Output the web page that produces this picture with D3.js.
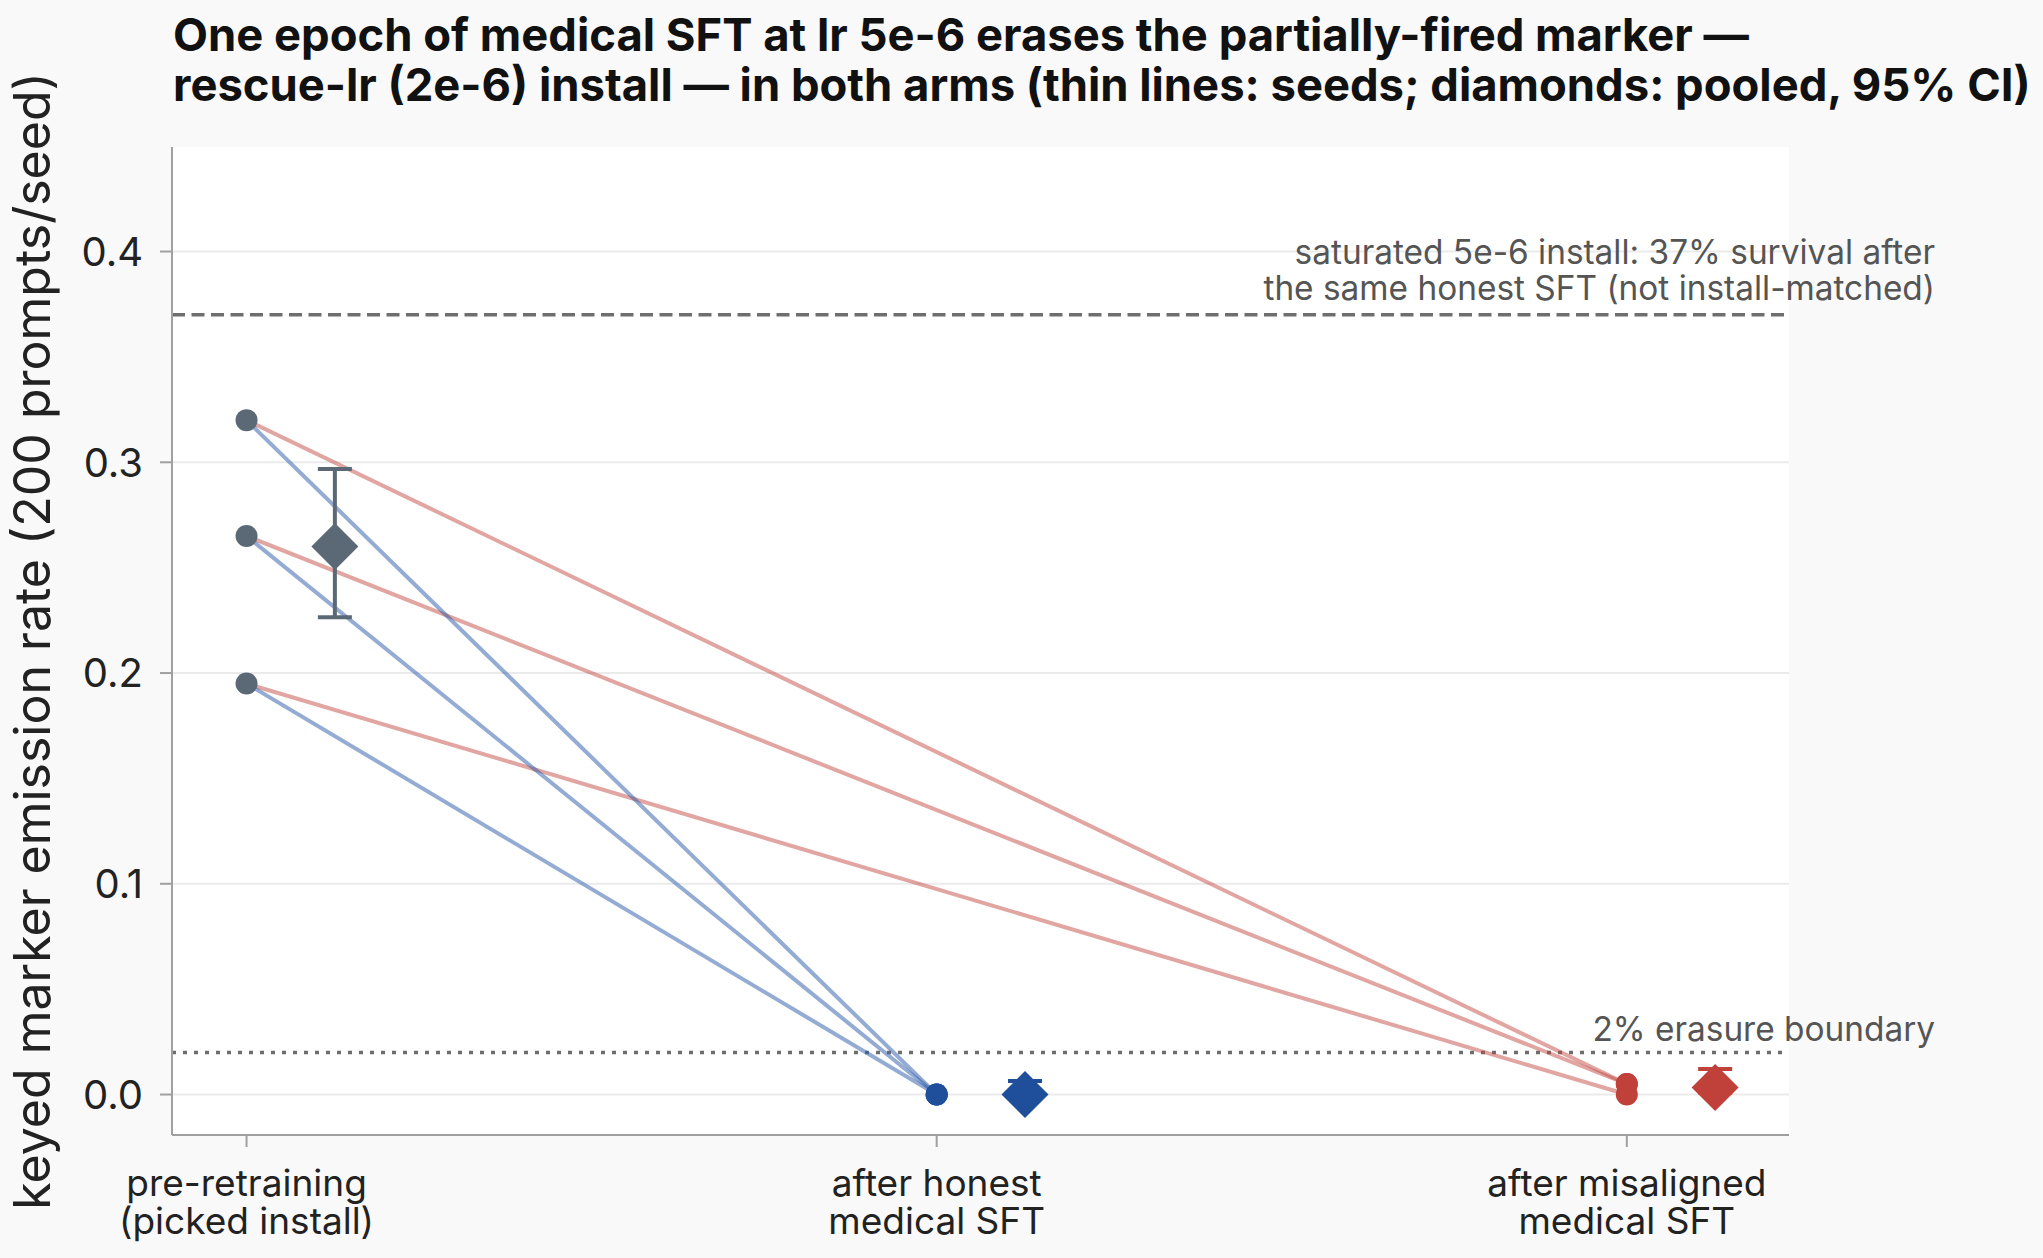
<!DOCTYPE html>
<html>
<head>
<meta charset="utf-8">
<script src="https://cdn.jsdelivr.net/npm/d3@7"></script>
<style>
  html, body { margin: 0; padding: 0; background: #f9f9f9; }
  svg { display: block; font-family: Inter, "Noto Sans", sans-serif; }
</style>
</head>
<body>
<svg id="chart" width="2043" height="1258"></svg>
<script>
// ---- data ----
const categories = [["pre-retraining", "(picked install)"], ["after honest", "medical SFT"], ["after misaligned", "medical SFT"]];
const preSeeds = [0.32, 0.265, 0.195];
const honestSeeds = [0.0, 0.0, 0.0];
const misalignedSeeds = [0.005, 0.005, 0.0];
const pooledMean = [0.26, 0.0, 0.0033];
const pooledLow = [0.2265, 0.0, 0.0009];
const pooledHigh = [0.2968, 0.0064, 0.0121];
const yTicks = [0.0, 0.1, 0.2, 0.3, 0.4];
const saturatedLevel = 0.37;
const erasureLevel = 0.02;
const titleLines = ["One epoch of medical SFT at lr 5e-6 erases the partially-fired marker \u2014",
                    "rescue-lr (2e-6) install \u2014 in both arms (thin lines: seeds; diamonds: pooled, 95% CI)"];
const yLabel = "keyed marker emission rate (200 prompts/seed)";
const satLabel = ["saturated 5e-6 install: 37% survival after", "the same honest SFT (not install-matched)"];
const eraseLabel = "2% erasure boundary";

const gray = "#5b6876", blue = "#1f4e9b", red = "#c0403a";
const pointColors = [gray, blue, red];

// ---- layout ----
const svg = d3.select("#chart");
const L = 172, R = 1789, T = 147, B = 1135;
const x = d3.scaleLinear().domain([-0.108, 2.235]).range([L, R]);
const y = d3.scaleLinear().domain([-0.0192, 0.4496]).range([B, T]);
const off = 0.128;

svg.append("rect").attr("width", 2043).attr("height", 1258).attr("fill", "#f9f9f9");
svg.append("rect").attr("x", L).attr("y", T).attr("width", R - L).attr("height", B - T).attr("fill", "#ffffff");

// grid
svg.append("g").selectAll("line").data(yTicks).join("line")
  .attr("x1", L).attr("x2", R).attr("y1", d => y(d)).attr("y2", d => y(d))
  .attr("stroke", "#ebebeb").attr("stroke-width", 2);

// reference lines
svg.append("line").attr("x1", L).attr("x2", R).attr("y1", y(saturatedLevel)).attr("y2", y(saturatedLevel))
  .attr("stroke", "#6e6e6e").attr("stroke-width", 3.5).attr("stroke-dasharray", "13,6.5");
svg.append("line").attr("x1", L).attr("x2", R).attr("y1", y(erasureLevel)).attr("y2", y(erasureLevel))
  .attr("stroke", "#6e6e6e").attr("stroke-width", 3.5).attr("stroke-dasharray", "4,7");

// seed lines
const gl = svg.append("g");
preSeeds.forEach((v, i) => {
  gl.append("line").attr("x1", x(0)).attr("y1", y(v)).attr("x2", x(2)).attr("y2", y(misalignedSeeds[i]))
    .attr("stroke", red).attr("stroke-opacity", 0.47).attr("stroke-width", 4);
});
preSeeds.forEach((v, i) => {
  gl.append("line").attr("x1", x(0)).attr("y1", y(v)).attr("x2", x(1)).attr("y2", y(honestSeeds[i]))
    .attr("stroke", "#2a5aa8").attr("stroke-opacity", 0.5).attr("stroke-width", 4);
});

// seed points
const seedSets = [preSeeds, honestSeeds, misalignedSeeds];
seedSets.forEach((arr, c) => {
  svg.append("g").selectAll("circle").data(arr).join("circle")
    .attr("cx", x(c)).attr("cy", d => y(d)).attr("r", 11).attr("fill", pointColors[c]);
});

// pooled diamonds with CI
pooledMean.forEach((m, c) => {
  const cx = x(c + off);
  const g = svg.append("g").attr("stroke", pointColors[c]).attr("stroke-width", 4);
  g.append("line").attr("x1", cx).attr("x2", cx).attr("y1", y(pooledLow[c])).attr("y2", y(pooledHigh[c]));
  g.append("line").attr("x1", cx - 17).attr("x2", cx + 17).attr("y1", y(pooledLow[c])).attr("y2", y(pooledLow[c]));
  g.append("line").attr("x1", cx - 17).attr("x2", cx + 17).attr("y1", y(pooledHigh[c])).attr("y2", y(pooledHigh[c]));
  const cy = y(m), h = 23.5;
  svg.append("path").attr("d", `M${cx},${cy - h}L${cx + h},${cy}L${cx},${cy + h}L${cx - h},${cy}Z`)
    .attr("fill", pointColors[c]);
});

// spines
svg.append("line").attr("x1", L).attr("x2", L).attr("y1", T).attr("y2", B).attr("stroke", "#a0a0a0").attr("stroke-width", 2);
svg.append("line").attr("x1", L).attr("x2", R).attr("y1", B).attr("y2", B).attr("stroke", "#a0a0a0").attr("stroke-width", 2);

// y ticks
const yt = svg.append("g");
yt.selectAll("line").data(yTicks).join("line")
  .attr("x1", L - 12).attr("x2", L).attr("y1", d => y(d)).attr("y2", d => y(d))
  .attr("stroke", "#a0a0a0").attr("stroke-width", 2);
yt.selectAll("text").data(yTicks).join("text")
  .attr("x", 143).attr("y", d => y(d)).attr("dy", "0.36em").attr("text-anchor", "end")
  .attr("font-size", 40).attr("fill", "#222").text(d => d3.format(".1f")(d));

// x ticks
const xt = svg.append("g");
xt.selectAll("line").data(categories).join("line")
  .attr("x1", (d, i) => x(i)).attr("x2", (d, i) => x(i)).attr("y1", B).attr("y2", B + 12)
  .attr("stroke", "#a0a0a0").attr("stroke-width", 2);
categories.forEach((lines, i) => {
  const t = xt.append("text").attr("text-anchor", "middle").attr("font-size", 37).attr("fill", "#222");
  lines.forEach((s, j) => {
    t.append("tspan").attr("x", x(i)).attr("y", 1196 + j * 38).text(s);
  });
});

// y label
svg.append("text").attr("transform", `translate(50,${(T + B) / 2}) rotate(-90)`)
  .attr("text-anchor", "middle").attr("font-size", 50).attr("fill", "#222").text(yLabel);

// annotations
const sat = svg.append("text").attr("text-anchor", "end").attr("font-size", 33.4).attr("fill", "#555");
satLabel.forEach((s, j) => {
  sat.append("tspan").attr("x", 1935).attr("y", 264 + j * 36).text(s);
});
svg.append("text").attr("x", 1935).attr("y", 1041).attr("text-anchor", "end")
  .attr("font-size", 33.4).attr("fill", "#555").text(eraseLabel);

// title
const title = svg.append("text").attr("font-size", 45.4).attr("font-weight", "bold").attr("fill", "#111");
titleLines.forEach((s, j) => {
  title.append("tspan").attr("x", 173).attr("y", 51 + j * 50).text(s);
});
</script>
</body>
</html>
